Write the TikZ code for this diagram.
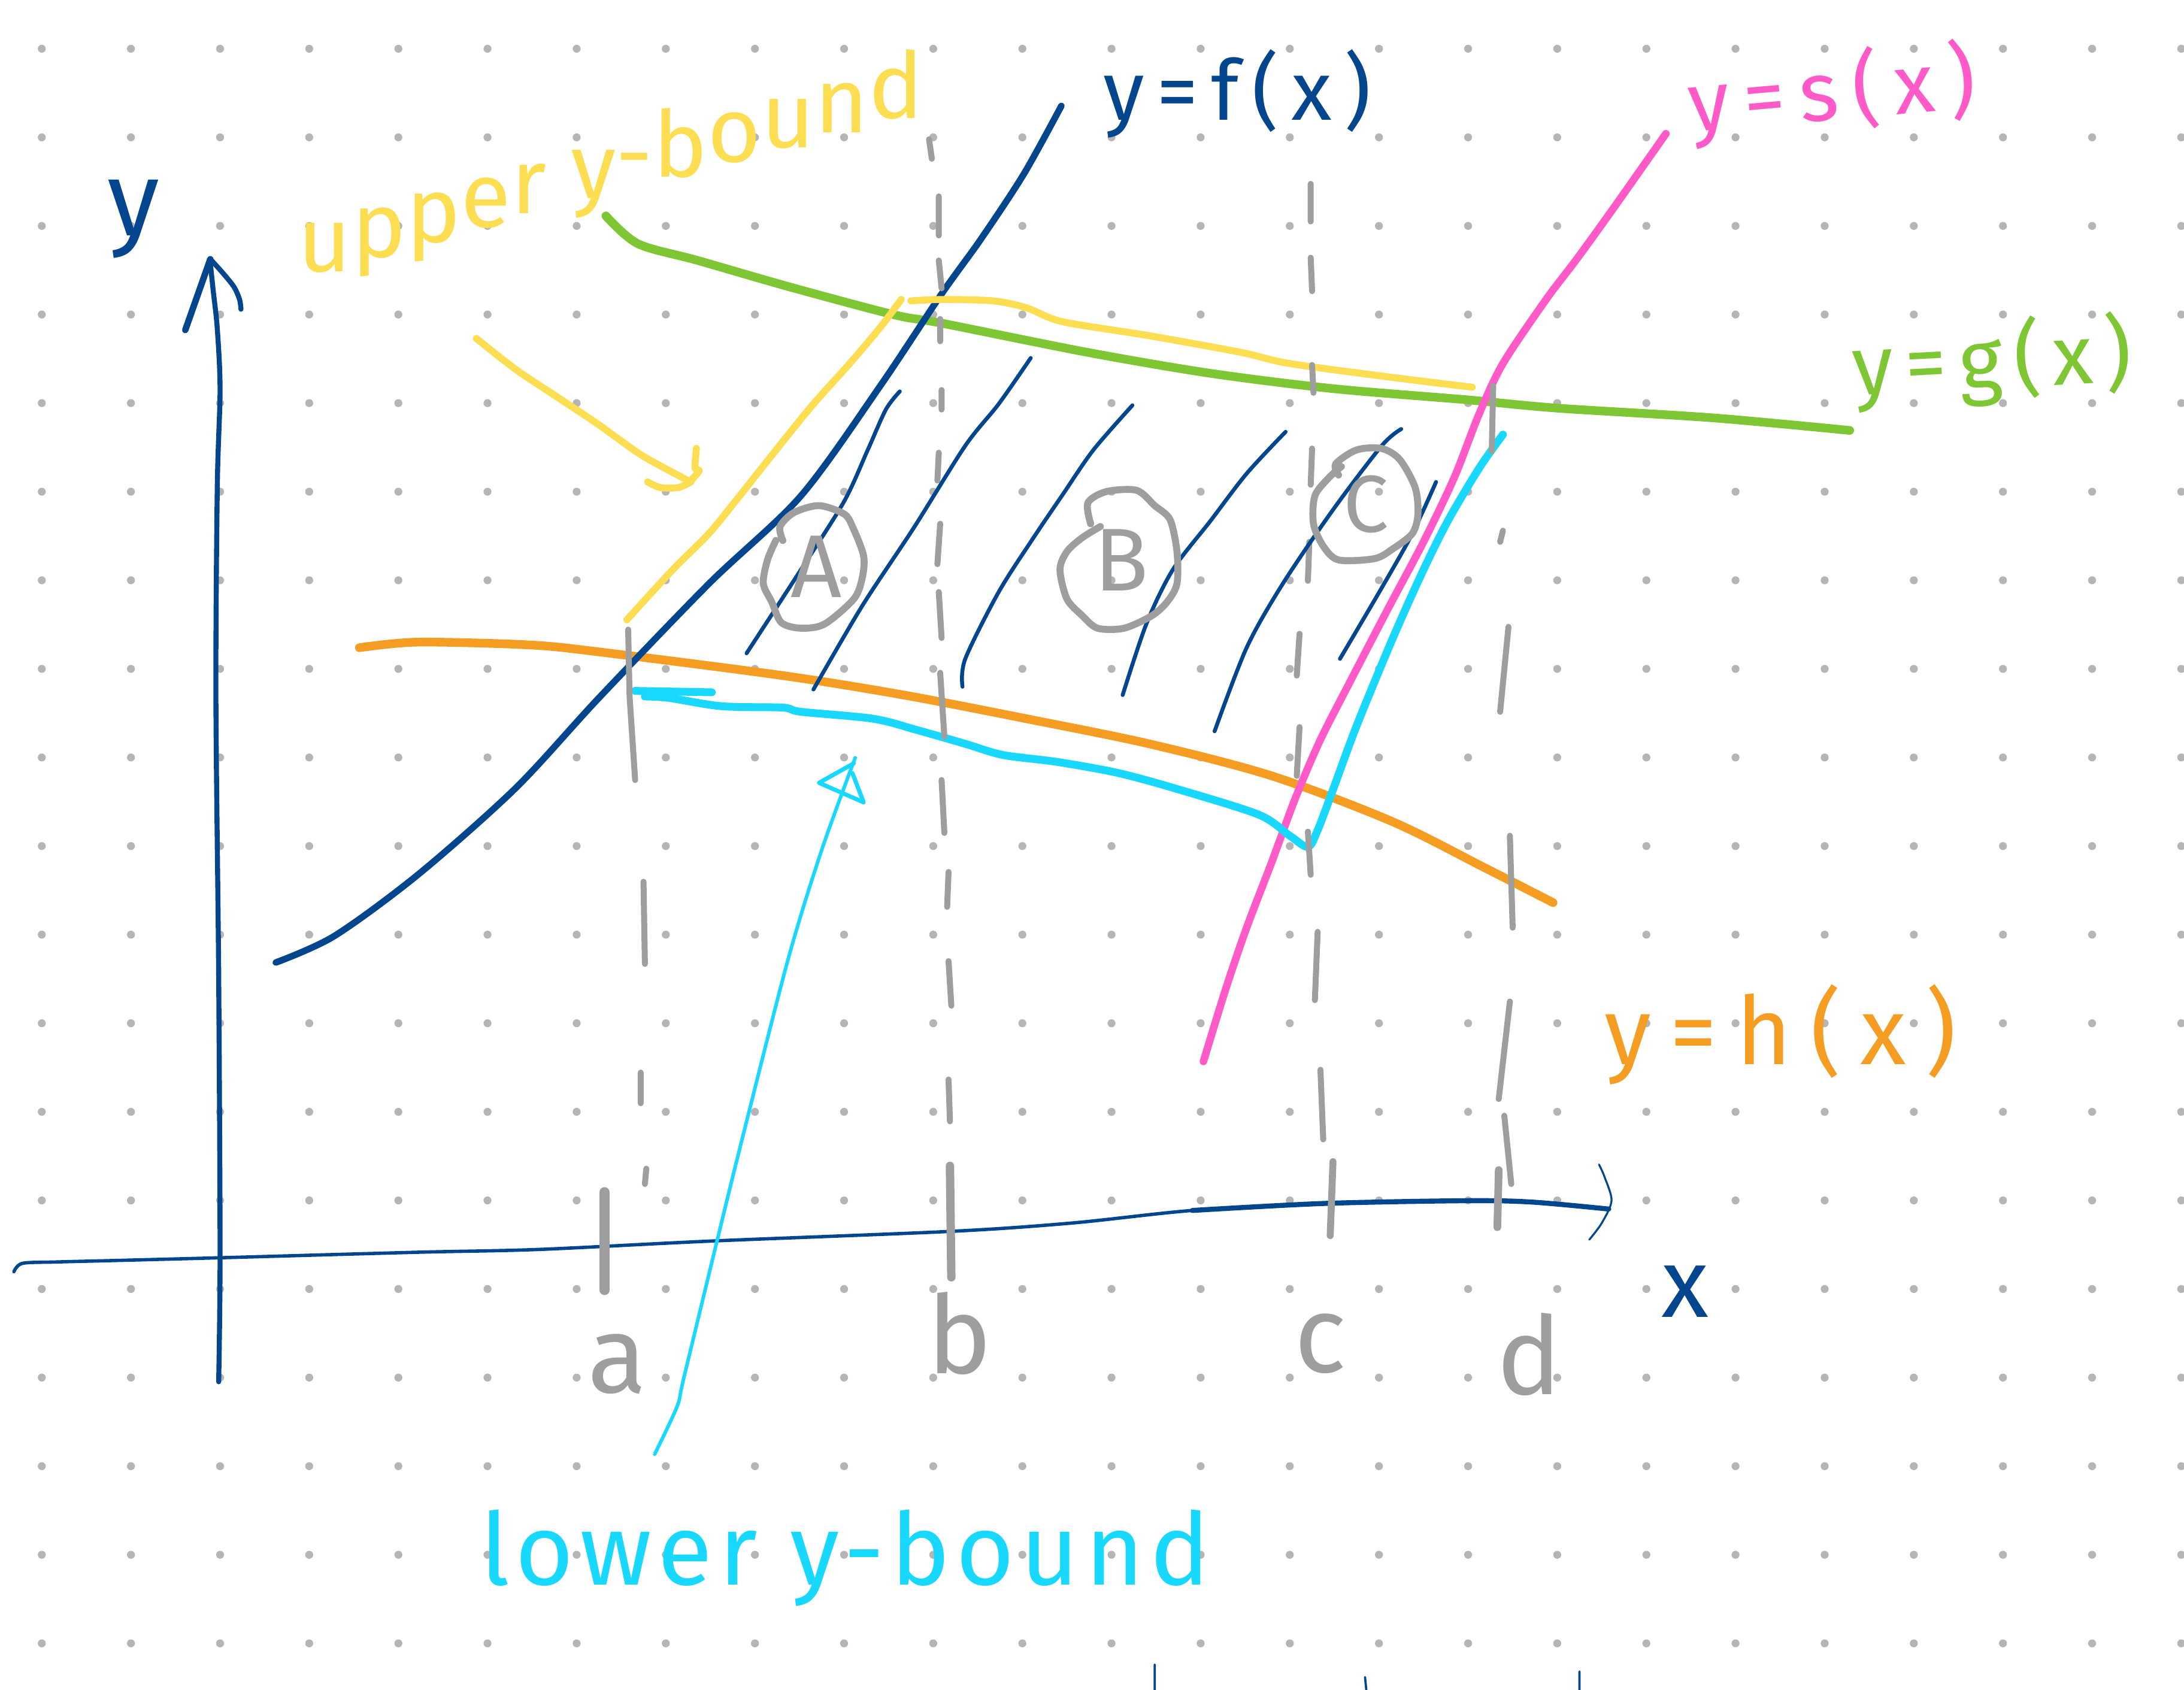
\documentclass[tikz,border=0pt]{standalone}
\usepackage{fontspec}
\setmainfont{Fira Sans}
\definecolor{fblue}{RGB}{4,70,142}
\definecolor{ggreen}{RGB}{126,198,52}
\definecolor{yyellow}{RGB}{253,222,82}
\definecolor{horange}{RGB}{245,157,35}
\definecolor{spink}{RGB}{255,90,200}
\definecolor{lcyan}{RGB}{24,216,255}
\definecolor{pgray}{RGB}{158,158,158}
\definecolor{dotgray}{RGB}{181,181,181}
\newcommand\hsz[1]{\fontsize{#1}{#1}\selectfont}
\newcommand\rb[2]{\raisebox{#1pt}{#2}}
\tikzset{
 rnd/.style={line cap=round,line join=round},
 fline/.style={rnd,draw=fblue,line width=4.7pt},
 gline/.style={rnd,draw=ggreen,line width=6.2pt},
 yline/.style={rnd,draw=yyellow,line width=5pt},
 oline/.style={rnd,draw=horange,line width=6.2pt},
 pline/.style={rnd,draw=spink,line width=5.4pt},
 cline/.style={rnd,draw=lcyan,line width=5.6pt},
 cthin/.style={rnd,draw=lcyan,line width=2.5pt},
 hatch/.style={rnd,draw=fblue,line width=2.8pt},
 gdash/.style={rnd,draw=pgray,line width=4.3pt},
 gcirc/.style={rnd,draw=pgray,line width=5pt},
 axisline/.style={rnd,draw=fblue,line width=3.6pt},
 lab/.style={inner sep=0pt,outer sep=0pt},
}
\begin{document}
\begin{tikzpicture}[x=1pt,y=-1pt]
\fill[white] (0,0) rectangle (1568,1213);
\useasboundingbox (0,0) rectangle (1568,1213);
% dot grid
\foreach \i in {0,...,24}{\foreach \j in {0,...,18}{\fill[dotgray] ({30+64*\i},{35+63.6*\j}) circle (2.85);}}
% y axis
\draw[axisline] plot[smooth] coordinates {(157,992) (158,900) (157,700) (155,500) (156,350) (158,280) (156,236) (153,208) (151,189)};
\draw[axisline,line width=4.6pt] (133,237) -- (151,186);
\draw[axisline] plot[smooth] coordinates {(151,186) (160,196) (168,206) (172,215) (173,222)};
% x axis
\draw[axisline,line width=2.4pt] plot[smooth] coordinates {(10,913) (16,907) (40,906) (80,905) (157,903) (300,899) (387,897) (510,891) (683,884) (770,878) (856,869) (950,864) (1053,862) (1100,863) (1155,868)};
\draw[axisline,line width=3.6pt] plot[smooth] coordinates {(856,869) (950,864) (1053,862) (1100,863) (1155,868)};
\draw[rnd,draw=fblue,line width=1.4pt] plot[smooth] coordinates {(1148,836) (1152,845) (1157,862) (1150,878) (1141,890)};
% green g
\draw[gline] plot[smooth] coordinates {(435,155) (458,175) (501,187) (567,206) (642,226) (676,232) (781,253) (869,268) (957,279) (1053,287) (1118,293) (1230,300) (1328,309)};
% orange h
\draw[oline] plot[smooth] coordinates {(258,465) (300,461) (380,463) (430,468) (562,485) (649,499) (737,516) (825,534) (913,557) (1000,590) (1066,623) (1115,648)};
% blue f
\draw[fline] plot[smooth] coordinates {(198,691) (240,672) (300,628) (370,566) (430,501) (509,419) (575,356) (632,277) (676,211) (704,172) (735,125) (762,76)};
% pink s
\draw[pline] plot[smooth] coordinates {(1196,96) (1158,150) (1132,186) (1110,215) (1079,261) (1062,297) (1044,343) (1022,389) (996,438) (970,488) (948,531) (930,573) (913,619) (895,666) (880,710) (864,762)};
% yellow upper bound
\draw[yline] plot[smooth] coordinates {(450,445) (483,409) (509,383) (531,356) (562,317) (584,290) (610,261) (632,235) (647,215)};
\draw[yline] plot[smooth] coordinates {(654,216) (676,215) (713,216) (737,221) (763,231) (825,241) (891,253) (926,261) (1000,271) (1057,278)};
% yellow arrow
\draw[yline] plot[smooth] coordinates {(342,243) (370,265) (400,285) (430,305) (461,327) (496,346)};
\draw[yline] plot[smooth] coordinates {(500,322) (499,336) (502,338) (496,345)};
\draw[yline] plot[smooth] coordinates {(465,346) (474,350) (487,350) (496,346)};
% cyan lower bound
\draw[cline] (456,496) -- (511,497);
\draw[cline] plot[smooth] coordinates {(463,500) (480,501) (518,507) (562,508) (575,511) (627,516) (658,524) (693,534) (720,542) (759,547) (803,555) (847,567) (904,585) (926,600) (939,608) (946,596) (957,567) (974,521) (1000,458) (1022,409) (1040,373) (1062,336) (1079,312)};
% cyan arrow
\draw[cthin] plot[smooth] coordinates {(470,1044) (486,1010) (491,989) (515,890) (533,817) (566,688) (590,610) (614,544)};
\draw[cthin,line width=3pt] (613,548) -- (588,562) -- (620,576) -- (612,555);
% gray dashed verticals
\draw[gdash] (451,452) -- (452,500) -- (456,560) (462,633) -- (463,692) (460,770) -- (460,792) (464,839) -- (463,850);
\draw[gdash] (667,100) -- (669,114) (674,141) -- (674,169) (674,187) -- (676,207) (675,229) -- (675,245) (676,280) -- (676,294) (674,325) -- (673,345) (675,376) -- (673,405) (674,425) -- (676,458) (675,483) -- (678,529) (676,560) -- (678,598) (681,626) -- (680,651) (681,690) -- (683,722) (681,775) -- (682,805);
\draw[gdash] (941,132) -- (941,159) (941,185) -- (942,209) (942,262) -- (943,282) (942,322) -- (941,348) (940,389) -- (939,417) (933,455) -- (931,485) (933,522) -- (931,557) (939,597) -- (941,628) (946,669) -- (944,718) (948,768) -- (950,818);
\draw[gdash] (1072,277) -- (1071,324) (1079,381) -- (1077,389) (1083,450) -- (1077,511) (1084,600) -- (1086,666) (1084,719) -- (1076,789) (1080,801) -- (1085,850);
% ticks
\draw[gdash,line width=7.5pt] (434,856) -- (434,926);
\draw[gdash,line width=6pt] (682,837) -- (683,917);
\draw[gdash,line width=5pt] (957,834) -- (955,887);
\draw[gdash,line width=5.5pt] (1076,840) -- (1075,881);
% hatch lines
\draw[hatch] plot[smooth] coordinates {(646,281) (636,294) (623,323) (606,360) (575,409) (536,469)};
\draw[hatch] plot[smooth] coordinates {(740,257) (717,290) (693,320) (656,379) (619,435) (584,495)};
\draw[hatch] plot[smooth] coordinates {(813,291) (785,323) (763,355) (742,386) (717,425) (693,473) (691,493)};
\draw[hatch] plot[smooth] coordinates {(923,310) (895,340) (869,374) (842,409) (823,448) (806,499)};
\draw[hatch] plot[smooth] coordinates {(1006,308) (992,320) (957,366) (921,419) (895,465) (872,525)};
\draw[hatch] plot[smooth] coordinates {(1031,346) (1014,383) (992,422) (962,473)};
% circles
\draw[gcirc] plot[smooth] coordinates {(562,388) (560,378) (570,368) (588,363) (606,369) (612,378) (620,399) (619,415) (613,430) (592,448) (575,451) (561,447) (554,432) (548,419) (551,402) (557,388)};
\draw[gcirc] plot[smooth] coordinates {(783,376) (781,361) (794,353) (816,352) (829,363) (840,373) (845,396) (845,419) (838,432) (827,442) (807,451) (788,451) (777,442) (766,430) (761,409) (766,396) (777,386) (790,378)};
\draw[gcirc] plot[smooth] coordinates {(961,341) (959,333) (974,323) (992,322) (1005,330) (1016,350) (1018,369) (1014,383) (1000,394) (987,401) (961,402) (950,392) (943,376) (944,356) (954,343) (963,335)};
\node[lab,text=pgray,font=\hsz{64}] (lA) at (586,407) {A};
\node[lab,text=pgray,font=\hsz{64}] (lB) at (805,402) {B};
\node[lab,text=pgray,font=\hsz{58}] (lC) at (981,362) {C};
% axis letters
\node[lab,text=pgray,font=\hsz{78},anchor=base] (la) at (443,1000) {a};
\node[lab,text=pgray,font=\hsz{78},anchor=base] (lb) at (689,986) {b};
\node[lab,text=pgray,font=\hsz{78},anchor=base] (lc) at (948,985) {c};
\node[lab,text=pgray,font=\hsz{78},anchor=base] (ld) at (1098,1001) {d};
% axis labels
\node[lab,text=fblue,font=\hsz{76},anchor=base west] (ly) at (77,169) {y};
\node[lab,text=fblue,font=\hsz{70}] (lx) at (1210,927) {x};
% function labels
\node[lab,text=fblue,font=\hsz{60},anchor=base west] (lf) at (792,86) {\addfontfeatures{LetterSpace=15}y=f(x)};
\node[lab,text=spink,font=\hsz{60},anchor=base west,rotate=5] (ls) at (1214,95) {\addfontfeatures{LetterSpace=17}y=s(x)};
\node[lab,text=ggreen,font=\hsz{60},anchor=base west,rotate=3] (lg) at (1331,284) {\addfontfeatures{LetterSpace=14}y=g(x)};
\node[lab,text=horange,font=\hsz{68},anchor=base west] (lh) at (1152,764) {\addfontfeatures{LetterSpace=20}y=h(x)};
% bound labels
\node[lab,text=yyellow,font=\hsz{66},anchor=base west] (lup) at (214,195) {u\rb{10.5}{p}\rb{21.1}{p}\rb{31.8}{e}\rb{41.7}{r} \rb{52.5}{y}\rb{61.8}{-}\rb{68}{b}\rb{78.6}{o}\rb{89.1}{u}\rb{99.6}{n}\rb{110}{d}};
\node[lab,text=lcyan,font=\hsz{72},anchor=base west] (llow) at (345,1138) {\addfontfeatures{LetterSpace=6}lower y-bound};
% cut-off strokes at bottom edge
\draw[rnd,draw=fblue,line width=1.6pt] (829,1195) -- (829,1214) (980,1204) -- (981,1214) (1134,1200) -- (1134,1214);
\end{tikzpicture}
\end{document}
